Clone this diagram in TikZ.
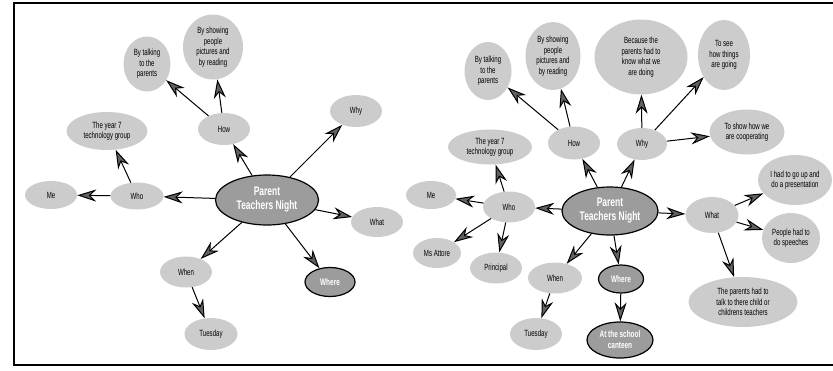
\documentclass[tikz,border=0pt]{standalone}
\usepackage{fontspec}
\setmainfont{Liberation Sans}[FakeStretch=0.68]
\usetikzlibrary{arrows.meta,shapes.geometric}
\newcommand{\MapArrowFill}{black!62}

\begin{document}
\begin{tikzpicture}[x=1bp,y=-1bp,
		idea/.style={ellipse,fill=gray!40,inner sep=0pt,align=center,
			font=\fontsize{9}{10.5}\selectfont},
		hub/.style={ellipse,fill=gray!78,draw=black,line width=1.2bp,inner sep=0pt,
			align=center,text=white,font=\fontsize{12.5}{14}\selectfont\bfseries},
		place/.style={hub,font=\fontsize{9.5}{11}\selectfont\bfseries},
		link/.style={-{Stealth[length=19bp,width=12bp,inset=6bp,fill=\MapArrowFill]},line width=1bp}]
				\useasboundingbox (0,0) rectangle (833,370);
				\draw[line width=1.3bp] (833,3) -- (14,3) -- (14,365) -- (833,365);
				% left map
				\node[hub,minimum width=103bp,minimum height=50bp] (Lhub) at (267,200) {Parent\\Teachers Night};
				\node[idea,minimum width=53bp,minimum height=27bp] (Lwho) at (137,196) {Who};
				\node[idea,minimum width=52bp,minimum height=28bp] (Lme) at (51,195) {Me};
				\node[idea,minimum width=81bp,minimum height=38bp] (Lyear) at (107,131) {The year 7\\technology group};
				\node[idea,minimum width=52bp,minimum height=32bp] (Lhow) at (224,129) {How};
				\node[idea,minimum width=47bp,minimum height=55bp] (Ltalk) at (147,64) {By talking\\to the\\parents};
				\node[idea,minimum width=60bp,minimum height=65bp] (Lshow) at (213,47) {By showing\\people\\pictures and\\by reading};
				\node[idea,minimum width=52bp,minimum height=32bp] (Lwhy) at (356,111) {Why};
				\node[idea,minimum width=52bp,minimum height=30bp] (Lwhat) at (377,222) {What};
				\node[place,minimum width=50bp,minimum height=29bp] (Lwhere) at (330,282) {Where};
				\node[idea,minimum width=52bp,minimum height=31bp] (Lwhen) at (186,272) {When};
				\node[idea,minimum width=53bp,minimum height=32bp] (Ltue) at (211,334) {Tuesday};
				\draw[link] (Lhub) -- (Lwho);
				\draw[link] (Lwho) -- (Lme);
				\draw[link] (Lwho) -- (Lyear);
				\draw[link] (Lhub) -- (Lhow);
				\draw[link] (Lhow) -- (Ltalk);
				\draw[link] (Lhow) -- (Lshow);
				\draw[link] (Lhub) -- (Lwhy);
				\draw[link] (Lhub) -- (Lwhat);
				\draw[link] (Lhub) -- (Lwhere);
				\draw[link] (Lhub) -- (Lwhen);
				\draw[link] (Lwhen) -- (Ltue);
				% right map
				\node[hub,minimum width=96bp,minimum height=48bp] (Rhub) at (610,211) {Parent\\Teachers Night};
				\node[idea,minimum width=52bp,minimum height=31bp] (Rwho) at (509,207) {Who};
				\node[idea,minimum width=50bp,minimum height=28bp] (Rme) at (431,195) {Me};
				\node[idea,minimum width=48bp,minimum height=30bp] (Ratt) at (437,253) {Ms Attore};
				\node[idea,minimum width=52bp,minimum height=31bp] (Rprin) at (496,268) {Principal};
				\node[idea,minimum width=84bp,minimum height=35bp] (Ryear) at (490,147) {The year 7\\technology group};
				\node[idea,minimum width=52bp,minimum height=33bp] (Rhow) at (574,143) {How};
				\node[idea,minimum width=47bp,minimum height=58bp] (Rtalk) at (488,71) {By talking\\to the\\parents};
				\node[idea,minimum width=55bp,minimum height=68bp] (Rshow) at (553,56) {By showing\\people\\pictures and\\by reading};
				\node[idea,minimum width=50bp,minimum height=32bp] (Rwhy) at (642,144) {Why};
				\node[idea,minimum width=93bp,minimum height=75bp] (Rknow) at (641,57) {Because the\\parents had to\\know what we\\are doing};
				\node[idea,minimum width=52bp,minimum height=70bp] (Rsee) at (724,55) {To see\\how things\\are going};
				\node[idea,minimum width=75bp,minimum height=45bp] (Rcoop) at (747,132) {To show how we\\are cooperating};
				\node[idea,minimum width=53bp,minimum height=36bp] (Rwhat) at (712,215) {What};
				\node[idea,minimum width=74bp,minimum height=50bp] (Rpres) at (795,180) {I had to go up and\\do a presentation};
				\node[idea,minimum width=58bp,minimum height=50bp] (Rspeech) at (791,238) {People had to\\do speeches};
				\node[idea,minimum width=109bp,minimum height=50bp] (Rteach) at (743,302) {The parents had to\\talk to there child or\\childrens teachers};
				\node[idea,minimum width=54bp,minimum height=31bp] (Rwhen) at (555,278) {When};
				\node[idea,minimum width=52bp,minimum height=32bp] (Rtue) at (536,334) {Tuesday};
				\node[place,minimum width=45bp,minimum height=28bp] (Rwhere) at (621,279) {Where};
				\node[place,minimum width=66bp,minimum height=36bp] (Rcant) at (620,340) {At the school\\canteen};
				\draw[link] (Rhub) -- (Rwho);
				\draw[link] (Rwho) -- (Rme);
				\draw[link] (Rwho) -- (Ratt);
				\draw[link] (Rwho) -- (Rprin);
				\draw[link] (Rwho) -- (Ryear);
				\draw[link] (Rhub) -- (Rhow);
				\draw[link] (Rhow) -- (Rtalk);
				\draw[link] (Rhow) -- (Rshow);
				\draw[link] (Rhub) -- (Rwhy);
				\draw[link] (Rwhy) -- (Rknow);
				\draw[link] (Rwhy) -- (Rsee);
				\draw[link] (Rwhy) -- (Rcoop);
				\draw[link] (Rhub) -- (Rwhat);
				\draw[link] (Rwhat) -- (Rpres);
				\draw[link] (Rwhat) -- (Rspeech);
				\draw[link] (Rwhat) -- (Rteach);
				\draw[link] (Rhub) -- (Rwhen);
				\draw[link] (Rwhen) -- (Rtue);
				\draw[link] (Rhub) -- (Rwhere);
				\draw[link] (Rwhere) -- (Rcant);
		\end{tikzpicture}
\end{document}
